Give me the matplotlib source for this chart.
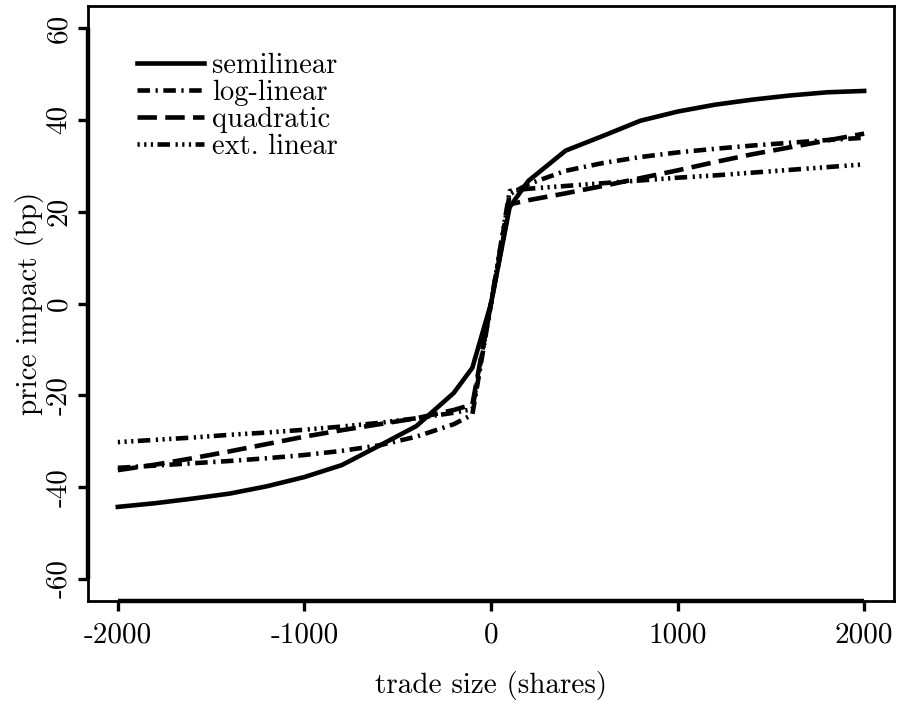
import matplotlib
matplotlib.use("Agg")
import matplotlib.pyplot as plt
import matplotlib.transforms as mtransforms

# Trade sizes (shares) and estimated price impact (bp) for each model
trade_size = [-2000, -1800, -1600, -1400, -1200, -1000, -800, -600, -400, -200, -100, 0,
              100, 200, 400, 600, 800, 1000, 1200, 1400, 1600, 1800, 2000]
semilinear = [-44.3, -43.5, -42.5, -41.4, -39.8, -37.8, -35.2, -31.0, -26.7, -19.5, -14.0, 0.0,
              21.0, 26.7, 33.3, 36.5, 39.8, 41.8, 43.3, 44.4, 45.3, 46.0, 46.3]
log_linear = [-35.8, -35.3, -34.8, -34.3, -33.7, -33.0, -32.1, -30.9, -29.0, -26.3, -24.2, 0.0,
              23.8, 26.0, 28.9, 30.6, 31.9, 32.9, 33.7, 34.4, 35.0, 35.6, 36.1]
quadratic = [-36.3, -35.1, -33.7, -32.2, -30.6, -29.0, -27.6, -26.3, -25.0, -23.2, -22.0, 0.0,
             21.6, 22.5, 24.0, 25.6, 27.3, 29.0, 30.8, 32.5, 34.0, 35.5, 37.0]
ext_linear = [-30.2, -29.7, -29.2, -28.6, -28.1, -27.5, -26.8, -26.0, -25.0, -23.8, -23.0, 0.0,
              24.5, 25.0, 25.6, 26.2, 26.8, 27.4, 27.9, 28.5, 29.1, 29.7, 30.3]

series_names = ["semilinear", "log-linear", "quadratic", "ext. linear"]
x_ticks = [-2000, -1000, 0, 1000, 2000]
y_ticks = [-60, -40, -20, 0, 20, 40, 60]

plt.rcParams["font.family"] = ["cmr10", "DejaVu Serif"]
plt.rcParams["axes.unicode_minus"] = False
plt.rcParams["lines.scale_dashes"] = False

W, H = 905, 702
fig = plt.figure(figsize=(W / 100, H / 100), dpi=100)
ax = fig.add_axes([88 / W, 1 - 601 / H, (894 - 88) / W, (601 - 6) / H])

lw = 3.3
styles = [
    dict(linestyle="-"),
    dict(dashes=(9, 4, 1.6, 4)),
    dict(dashes=(14, 6)),
    dict(dashes=(1.6, 3.2, 1.6, 3.2, 1.6, 3.2, 9, 4)),
]
for name, ys, st in zip(series_names, [semilinear, log_linear, quadratic, ext_linear], styles):
    ax.plot(trade_size, ys, color="black", lw=lw, label=name,
            solid_joinstyle="round", dash_capstyle="butt", **st)

ax.set_xlim(-2160, 2160)
ax.set_ylim(-64.8, 64.8)

for sp in ax.spines.values():
    sp.set_linewidth(2.0)

# axis lines spanning the first to the last tick
bx = mtransforms.blended_transform_factory(ax.transData, ax.transAxes)
by = mtransforms.blended_transform_factory(ax.transAxes, ax.transData)
ax.plot([x_ticks[0], x_ticks[-1]], [0, 0], transform=bx, color="black", lw=3.2,
        clip_on=False, solid_capstyle="butt")
ax.plot([0, 0], [y_ticks[0], y_ticks[-1]], transform=by, color="black", lw=3.2,
        clip_on=False, solid_capstyle="butt")

ax.set_xticks(x_ticks)
ax.set_xticklabels([str(v) for v in x_ticks], fontsize=21)
ax.set_yticks(y_ticks)
ax.set_yticklabels([str(v) for v in y_ticks], fontsize=21, rotation=90, va="center")
ax.tick_params(axis="both", direction="out", length=7.5, width=2.4)
ax.tick_params(axis="x", pad=8)
ax.tick_params(axis="y", pad=4)

ax.set_xlabel("trade size (shares)", fontsize=21, va="center")
ax.xaxis.set_label_coords(0.5, (601 - 686) / 595)
ax.set_ylabel("price impact (bp)", fontsize=21, va="center")
ax.yaxis.set_label_coords((30 - 88) / 806, 0.5)

leg = ax.legend(loc="upper left", bbox_to_anchor=(0.0608, 0.922), frameon=False,
                fontsize=20.5, handlelength=2.35, handletextpad=0.3, labelspacing=0.03,
                borderpad=0, borderaxespad=0)

fig.savefig("out.png", dpi=100)
